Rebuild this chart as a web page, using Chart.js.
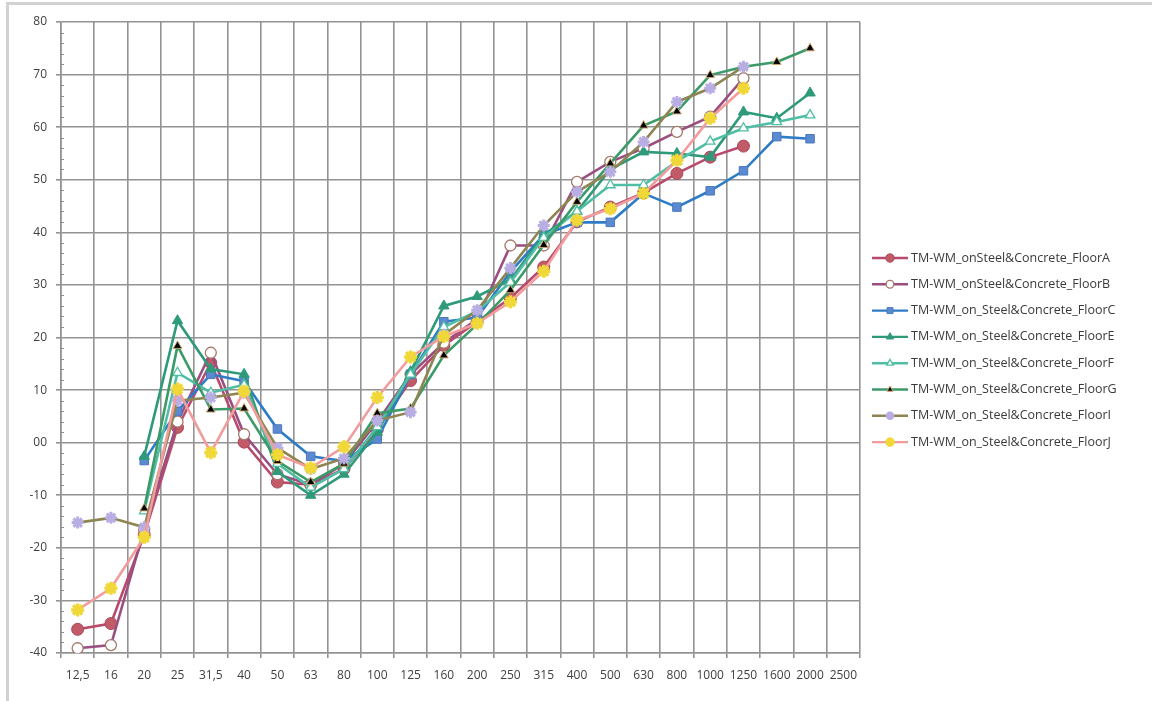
<!DOCTYPE html>
<html>
<head>
<meta charset="utf-8">
<script src="https://cdn.jsdelivr.net/npm/chart.js@4.4.1/dist/chart.umd.min.js"></script>
<style>
  html, body { margin: 0; padding: 0; background: #fff; }
  #wrap { position: relative; width: 1152px; height: 701px; overflow: hidden; }
  #frame { position: absolute; left: 6px; top: 2px; width: 1200px; height: 760px;
           border-left: 3px solid #d2d2d2; border-top: 3px solid #d2d2d2; }
  #myChart { position: absolute; left: 0; top: 0; }
</style>
</head>
<body>
<div id="wrap">
  <div id="frame"></div>
  <canvas id="myChart" width="1152" height="701"></canvas>
</div>
<script>
const bands = ['12,5', '16', '20', '25', '31,5', '40', '50', '63', '80', '100', '125', '160',
  '200', '250', '315', '400', '500', '630', '800', '1000', '1250', '1600', '2000', '2500'];

const floorA = [-35.5, -34.4, -17.5, 2.9, 15.2, 0.1, -7.5, -8, -5, 2.5, 11.8, 18.5, 23, 27.5, 33.4, 42, 44.8, 47.5, 51.2, 54.3, 56.4, null, null, null];
const floorB = [-39.1, -38.5, -16.5, 4, 17.1, 1.6, -6, -8, -4, 4, 13, 19, 23.5, 37.5, 37.5, 49.6, 53.4, 56, 59.1, 62, 69.3, null, null, null];
const floorC = [null, null, -3.4, 6, 13, 11.7, 2.6, -2.6, -3.5, 0.7, 13, 23, 23.8, 32.5, 39.5, 41.9, 41.9, 47.4, 44.8, 47.9, 51.7, 58.2, 57.8, null];
const floorE = [null, null, -2.6, 23.2, 14, 13, -5.5, -10, -6, 2, 13.5, 26, 27.8, 31, 39.5, 44, 52, 55.3, 55, 54.3, 62.9, 61.7, 66.5, null];
const floorF = [null, null, -13, 13.3, 9.5, 11, -4, -8.5, -5, 3, 13, 22, 25, 30.5, 39, 44, 49, 49, 53.5, 57.3, 59.8, 61, 62.3, null];
const floorG = [null, null, -12.5, 18.4, 6.3, 6.5, -3.5, -7.5, -4, 5.6, 6.5, 16.6, 22.5, 29, 37.6, 45.8, 53.1, 60.3, 63, 69.9, 71.5, 72.4, 75, null];
const floorI = [-15.2, -14.3, -16.1, 8, 8.6, 9.5, -1, -5, -3, 4.2, 5.8, 20.5, 25.2, 33.2, 41.3, 47.7, 51.5, 57.2, 64.8, 67.4, 71.5, null, null, null];
const floorJ = [-31.8, -27.7, -18, 10.2, -1.9, 9.8, -2.3, -4.8, -0.8, 8.6, 16.3, 20.2, 22.7, 26.8, 32.6, 42.3, 44.5, 47.4, 53.7, 61.7, 67.4, null, null, null];

const yTicks = [-40, -30, -20, -10, 0, 10, 20, 30, 40, 50, 60, 70, 80];

const FONT = '"Open Sans", "Noto Sans", sans-serif';

function series(label, data, line, style, fill, border, radius, bw) {
  return {
    label: label,
    data: data,
    borderColor: line,
    borderWidth: 2.6,
    pointStyle: style,
    pointRadius: radius,
    pointBackgroundColor: fill,
    pointBorderColor: border,
    pointBorderWidth: bw,
    tension: 0,
  };
}

const datasets = [
  series('TM-WM_onSteel&Concrete_FloorA', floorA, '#b84a6c', 'circle', '#c25a68', '#a8495a', 6, 1),
  series('TM-WM_onSteel&Concrete_FloorB', floorB, '#9a4f80', 'circle', '#ffffff', '#a4786a', 5.5, 1.3),
  series('TM-WM_on_Steel&Concrete_FloorC', floorC, '#2f7cc6', 'rect', '#5b8ad0', '#4a78c0', 6, 1),
  series('TM-WM_on_Steel&Concrete_FloorE', floorE, '#2e9a7a', 'triangle', '#2e9a7a', '#2e9a7a', 6, 1),
  series('TM-WM_on_Steel&Concrete_FloorF', floorF, '#4fbea4', 'triangle', '#ffffff', '#4fbea4', 5.5, 1.3),
  series('TM-WM_on_Steel&Concrete_FloorG', floorG, '#3c9a68', 'triangle', '#000000', '#c9a46a', 5, 1),
  series('TM-WM_on_Steel&Concrete_FloorI', floorI, '#8e8552', 'star', '#c2b8e8', '#b9aee4', 6, 3),
  series('TM-WM_on_Steel&Concrete_FloorJ', floorJ, '#f29d9d', 'star', '#f3df3a', '#f0d838', 6.5, 3.5),
];
datasets.forEach((d, i) => { d.order = datasets.length - 1 - i; });

// small ticks every 2 units along the y axis
const minorTicks = {
  id: 'minorTicks',
  afterDraw(chart) {
    const ctx = chart.ctx;
    const y = chart.scales.y;
    ctx.save();
    ctx.strokeStyle = '#8f8f8f';
    ctx.lineWidth = 1;
    for (let v = -40; v <= 80; v += 2) {
      if (v % 10 === 0) continue;
      const py = Math.round(y.getPixelForValue(v)) + 0.5;
      ctx.beginPath();
      ctx.moveTo(y.right, py);
      ctx.lineTo(y.right + 3, py);
      ctx.stroke();
    }
    ctx.restore();
  }
};

// legend drawn to the right of the plot, excel style (line + marker)
const sideLegend = {
  id: 'sideLegend',
  afterDraw(chart) {
    const ctx = chart.ctx;
    ctx.save();
    chart.data.datasets.forEach(function (ds, i) {
      const y = 258 + i * 26.3;
      ctx.strokeStyle = ds.borderColor;
      ctx.lineWidth = 2.4;
      ctx.beginPath();
      ctx.moveTo(872, y);
      ctx.lineTo(908, y);
      ctx.stroke();
      ctx.fillStyle = ds.pointBackgroundColor;
      ctx.strokeStyle = ds.pointBorderColor;
      ctx.lineWidth = ds.pointBorderWidth;
      Chart.helpers.drawPoint(ctx, {
        pointStyle: ds.pointStyle, rotation: 0,
        radius: ds.pointRadius * 0.7, borderWidth: ds.pointBorderWidth
      }, 890, y);
      ctx.fillStyle = '#3a3a3a';
      ctx.font = '12.5px ' + FONT;
      ctx.textBaseline = 'middle';
      ctx.textAlign = 'left';
      ctx.fillText(ds.label, 911, y);
    });
    ctx.restore();
  }
};

const ctx = document.getElementById('myChart').getContext('2d');
new Chart(ctx, {
  type: 'line',
  data: { labels: bands, datasets: datasets },
  options: {
    responsive: false,
    animation: false,
    devicePixelRatio: 1,
    layout: { padding: { left: 0, right: 292, top: 22, bottom: 0 } },
    plugins: {
      legend: { display: false },
      tooltip: { enabled: false },
    },
    scales: {
      x: {
        type: 'category',
        offset: true,
        grid: { offset: true, color: '#939393', lineWidth: 1.6, tickLength: 5 },
        border: { color: '#939393', width: 1.6 },
        ticks: { autoSkip: false, maxRotation: 0, padding: 10, color: '#404040',
                 font: { family: FONT, size: 12 } },
        afterFit: function (s) { s.height = 48; },
      },
      y: {
        min: -40,
        max: 80,
        afterBuildTicks: function (s) { s.ticks = yTicks.map(v => ({ value: v })); },
        grid: { color: '#939393', lineWidth: 1.6, tickLength: 5 },
        border: { color: '#939393', width: 1.6 },
        ticks: {
          padding: 9, color: '#404040', font: { family: FONT, size: 12 },
          callback: function (v) { return v === 0 ? '00' : String(v); }
        },
        afterFit: function (s) { s.width = 61; },
      }
    }
  },
  plugins: [minorTicks, sideLegend],
});
</script>
</body>
</html>
